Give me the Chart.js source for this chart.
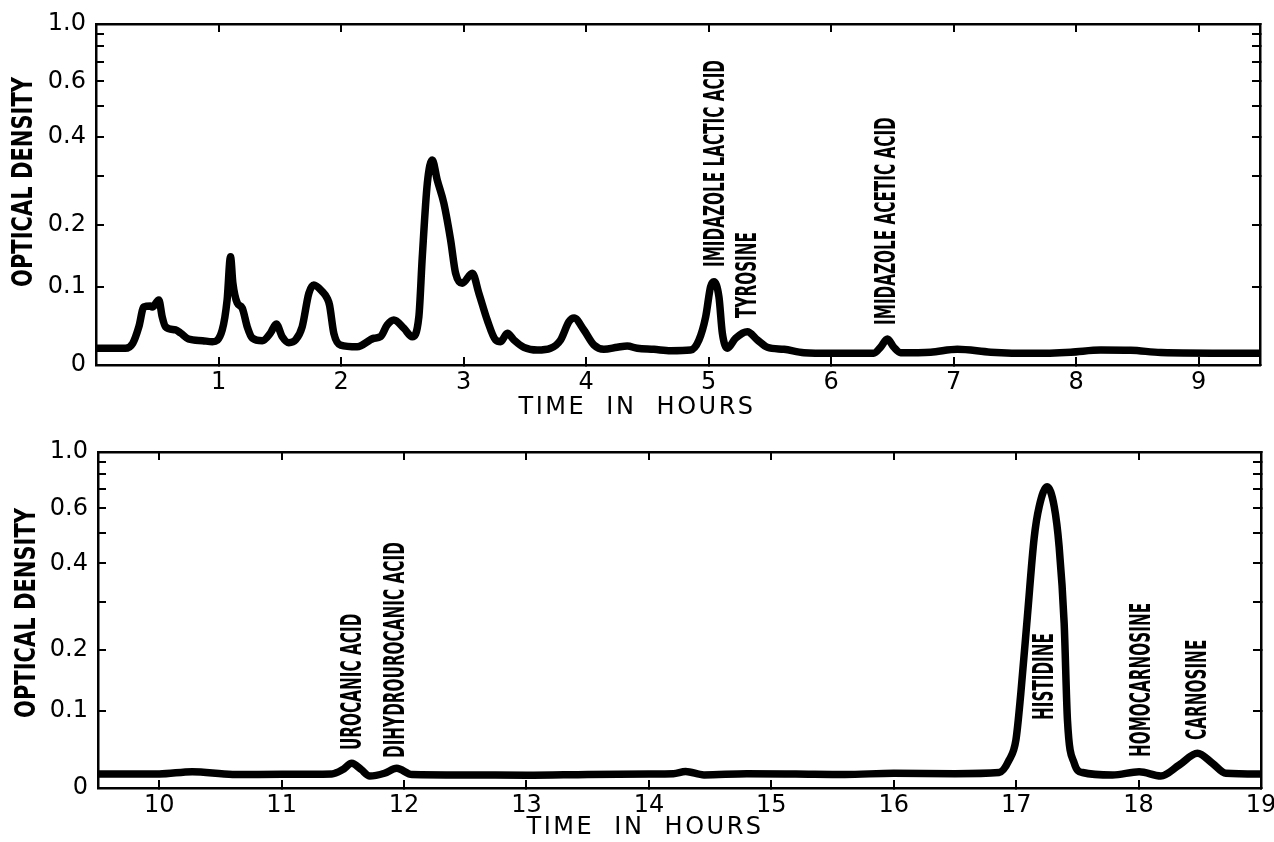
<!DOCTYPE html>
<html>
<head>
<meta charset="utf-8">
<title>Chromatogram</title>
<script src="https://cdn.jsdelivr.net/npm/chart.js@4.4.1/dist/chart.umd.min.js"></script>
<style>
  html, body { margin: 0; padding: 0; background: #fff; }
  .panel { position: absolute; left: 0; width: 1274px; }
  #topPanel { top: 0; height: 420px; }
  #bottomPanel { top: 420px; height: 422px; }
</style>
</head>
<body>
<div class="panel" id="topPanel"><canvas id="topChart" width="1274" height="420"></canvas></div>
<div class="panel" id="bottomPanel"><canvas id="bottomChart" width="1274" height="422"></canvas></div>
<script>
// ---- data (time in hours, optical density) ----
const topTime = [0, 0.24, 0.30, 0.35, 0.39, 0.445, 0.46, 0.513, 0.54, 0.567,
  0.65, 0.69, 0.755, 0.87, 0.95, 1.03, 1.07, 1.098, 1.117, 1.153,
  1.193, 1.234, 1.275, 1.357, 1.424, 1.471, 1.52, 1.574, 1.629, 1.683,
  1.737, 1.778, 1.847, 1.887, 1.906, 1.941, 1.996, 2.132, 2.268, 2.322,
  2.377, 2.431, 2.513, 2.581, 2.635, 2.663, 2.704, 2.744, 2.785, 2.839,
  2.894, 2.935, 2.989, 3.071, 3.125, 3.193, 3.261, 3.302, 3.357, 3.411,
  3.492, 3.602, 3.71, 3.792, 3.86, 3.902, 3.982, 4.064, 4.145, 4.255,
  4.336, 4.418, 4.553, 4.69, 4.853, 4.921, 4.976, 5.016, 5.043, 5.084,
  5.112, 5.153, 5.22, 5.316, 5.398, 5.479, 5.615, 5.778, 6.0, 6.347,
  6.404, 6.459, 6.51, 6.567, 6.812, 7.03, 7.302, 7.653, 7.955, 8.2,
  8.445, 8.69, 9.5];
const topOD = [0.0196, 0.0196, 0.0256, 0.0463, 0.0722, 0.0735, 0.072, 0.0817, 0.0592, 0.0463,
  0.0421, 0.0383, 0.0309, 0.0288, 0.0276, 0.0421, 0.0817, 0.146, 0.1059, 0.0775,
  0.0708, 0.0463, 0.0321, 0.0288, 0.0383, 0.0498, 0.0337, 0.0264, 0.0297, 0.0463,
  0.0911, 0.103, 0.0934, 0.0841, 0.0747, 0.038, 0.0235, 0.0215, 0.0318, 0.0337,
  0.0485, 0.0549, 0.0443, 0.0337, 0.0592, 0.146, 0.2834, 0.3383, 0.2911, 0.2418,
  0.1742, 0.1204, 0.1055, 0.1204, 0.0911, 0.0549, 0.0297, 0.0276, 0.038, 0.0297,
  0.0208, 0.0175, 0.0196, 0.0297, 0.0527, 0.0575, 0.0421, 0.0235, 0.0184, 0.0208,
  0.0223, 0.0196, 0.0184, 0.0167, 0.0175, 0.0297, 0.0592, 0.1006, 0.1078, 0.0863,
  0.038, 0.0196, 0.0318, 0.0399, 0.0297, 0.0208, 0.0184, 0.0143, 0.0136, 0.0138,
  0.0211, 0.0309, 0.0211, 0.0143, 0.015, 0.0184, 0.015, 0.0136, 0.015, 0.0175,
  0.0172, 0.0146, 0.0136];

const bottomTime = [9.5, 10.0, 10.27, 10.6, 11.0, 11.41, 11.5, 11.573, 11.65, 11.72,
  11.84, 11.94, 12.065, 12.5, 13.0, 13.5, 14.0, 14.2, 14.3, 14.45,
  14.8, 15.2, 15.6, 16.0, 16.5, 16.861, 16.943, 16.998, 17.038, 17.092,
  17.147, 17.188, 17.253, 17.311, 17.351, 17.392, 17.419, 17.474, 17.542, 17.787,
  18.005, 18.182, 18.332, 18.481, 18.604, 18.713, 19.0];
const bottomOD = [0.0166, 0.0166, 0.0194, 0.016, 0.0162, 0.0166, 0.022, 0.0297, 0.022, 0.0142,
  0.0175, 0.0235, 0.016, 0.0155, 0.015, 0.016, 0.0166, 0.017, 0.0196, 0.0155,
  0.017, 0.0166, 0.016, 0.0175, 0.017, 0.0184, 0.0339, 0.0598, 0.127, 0.2683,
  0.4811, 0.6085, 0.7136, 0.6085, 0.4515, 0.2534, 0.0873, 0.0301, 0.0184, 0.0154,
  0.0194, 0.0142, 0.0276, 0.0424, 0.0297, 0.0175, 0.0166];

// peak names, where they sit (time) and the OD at the foot of each label
const topPeakNames = ["IMIDAZOLE LACTIC ACID", "TYROSINE", "IMIDAZOLE ACETIC ACID"];
const topPeakTimes = [5.065, 5.33, 6.46];
const topPeakBase = [0.130, 0.0575, 0.0485];

const bottomPeakNames = ["UROCANIC ACID", "DIHYDROUROCANIC ACID", "HISTIDINE", "HOMOCARNOSINE", "CARNOSINE"];
const bottomPeakTimes = [11.59, 11.94, 17.245, 18.03, 18.495];
const bottomPeakBase = [0.0466, 0.0364, 0.0873, 0.0376, 0.0598];

// axis ticks
const topXTicks = [1, 2, 3, 4, 5, 6, 7, 8, 9];
const bottomXTicks = [10, 11, 12, 13, 14, 15, 16, 17, 18, 19];
const yTickValues = [0, 0.1, 0.2, 0.3, 0.4, 0.5, 0.6, 0.7, 0.8, 0.9, 1.0];
const yTickLabels = ["0", "0.1", "0.2", "", "0.4", "", "0.6", "", "", "", "1.0"];

const yTitle = "OPTICAL DENSITY";
const xTitle = "TIME  IN  HOURS";

// ---- optical density axis: linear in transmittance (T = 10^-OD) ----
const trans = (v) => 1 - Math.pow(10, -v);

class DensityScale extends Chart.LinearScale {
  getPixelForValue(value) {
    const lo = trans(this.min), hi = trans(this.max);
    return this.getPixelForDecimal((trans(value) - lo) / (hi - lo));
  }
  getValueForPixel(pixel) {
    const lo = trans(this.min), hi = trans(this.max);
    const t = lo + this.getDecimalForPixel(pixel) * (hi - lo);
    return -Math.log10(1 - t);
  }
}
DensityScale.id = "density";
DensityScale.defaults = {};
Chart.register(DensityScale);

const tickFont = { family: "'DejaVu Sans', sans-serif", size: 24 };
const frameGrid = { drawOnChartArea: false, tickLength: -8, color: "#000", lineWidth: 2 };
const frameBorder = { display: true, color: "#000", width: 2.5 };

// draws the rotated peak names and the axis titles
const textPlugin = {
  id: "chromText",
  afterDraw(chart, args, opts) {
    const ctx = chart.ctx;
    const xs = chart.scales.x, ys = chart.scales.y;
    const narrow = "bold 28px 'Liberation Sans Narrow', 'DejaVu Sans Condensed', 'Liberation Sans', sans-serif";

    ctx.save();
    ctx.fillStyle = "#000";
    ctx.font = narrow;
    const squeeze = 207 / ctx.measureText("IMIDAZOLE LACTIC ACID").width;
    ctx.textAlign = "left";
    ctx.textBaseline = "middle";
    opts.names.forEach((name, i) => {
      ctx.save();
      ctx.translate(xs.getPixelForValue(opts.times[i]), ys.getPixelForValue(opts.bases[i]));
      ctx.rotate(-Math.PI / 2);
      ctx.scale(squeeze, 1);
      ctx.fillText(name, 0, 0);
      ctx.restore();
    });

    // y title
    ctx.save();
    ctx.font = narrow;
    const ySqueeze = 210 / ctx.measureText(yTitle).width;
    ctx.translate(opts.yTitleX, opts.yTitleY);
    ctx.rotate(-Math.PI / 2);
    ctx.scale(ySqueeze, 1);
    ctx.textAlign = "center";
    ctx.fillText(yTitle, 0, 0);
    ctx.restore();

    // x title
    ctx.font = "24px 'DejaVu Sans', sans-serif";
    ctx.letterSpacing = "2.5px";
    ctx.textAlign = "center";
    ctx.fillText(xTitle, opts.xTitleX, opts.xTitleY);
    ctx.restore();
  }
};

function makeChart(canvasId, times, ods, xMin, xMax, xTicks, area, labels) {
  const fixTicks = (list) => (s) => { s.ticks = list.map((v) => ({ value: v })); };
  const noPad = (s) => { s.paddingLeft = 0; s.paddingRight = 0; s.paddingTop = 0; s.paddingBottom = 0; };

  return new Chart(document.getElementById(canvasId), {
    type: "line",
    data: {
      datasets: [{
        data: times.map((t, i) => ({ x: t, y: ods[i] })),
        borderColor: "#000",
        borderWidth: 7.5,
        pointRadius: 0,
        cubicInterpolationMode: "monotone",
        borderJoinStyle: "round",
        borderCapStyle: "round",
        fill: false,
      }],
    },
    options: {
      responsive: false,
      animation: false,
      layout: { autoPadding: false, padding: { top: area.top, right: area.right, bottom: 0, left: 0 } },
      plugins: {
        legend: { display: false },
        tooltip: { enabled: false },
        chromText: labels,
      },
      scales: {
        x: {
          type: "linear", position: "bottom", min: xMin, max: xMax,
          afterBuildTicks: fixTicks(xTicks),
          ticks: { font: tickFont, color: "#000", padding: 11, maxRotation: 0, autoSkip: false, callback: (v) => String(v) },
          grid: frameGrid, border: frameBorder,
          afterFit: (s) => { s.height = area.xHeight; noPad(s); },
        },
        x2: {
          type: "linear", position: "top", min: xMin, max: xMax,
          afterBuildTicks: fixTicks(xTicks),
          ticks: { display: false, autoSkip: false },
          grid: frameGrid, border: frameBorder,
          afterFit: (s) => { s.height = 0; noPad(s); },
        },
        y: {
          type: "density", position: "left", min: 0, max: 1,
          afterBuildTicks: fixTicks(yTickValues),
          ticks: { font: tickFont, color: "#000", padding: 18, autoSkip: false, callback: (v, i) => yTickLabels[i] },
          grid: frameGrid, border: frameBorder,
          afterFit: (s) => { s.width = area.left; noPad(s); },
        },
        y2: {
          type: "density", position: "right", min: 0, max: 1,
          afterBuildTicks: fixTicks(yTickValues),
          ticks: { display: false, autoSkip: false },
          grid: frameGrid, border: frameBorder,
          afterFit: (s) => { s.width = 0; noPad(s); },
        },
      },
    },
    plugins: [textPlugin],
  });
}

makeChart("topChart", topTime, topOD, 0, 9.5, topXTicks,
  { top: 24, right: 14, left: 96, xHeight: 55 },
  { names: topPeakNames, times: topPeakTimes, bases: topPeakBase,
    yTitleX: 25, yTitleY: 182, xTitleX: 637, xTitleY: 408 });

makeChart("bottomChart", bottomTime, bottomOD, 9.5, 19, bottomXTicks,
  { top: 32, right: 13, left: 98, xHeight: 54 },
  { names: bottomPeakNames, times: bottomPeakTimes, bases: bottomPeakBase,
    yTitleX: 28, yTitleY: 193, xTitleX: 645, xTitleY: 408 });
</script>
</body>
</html>
